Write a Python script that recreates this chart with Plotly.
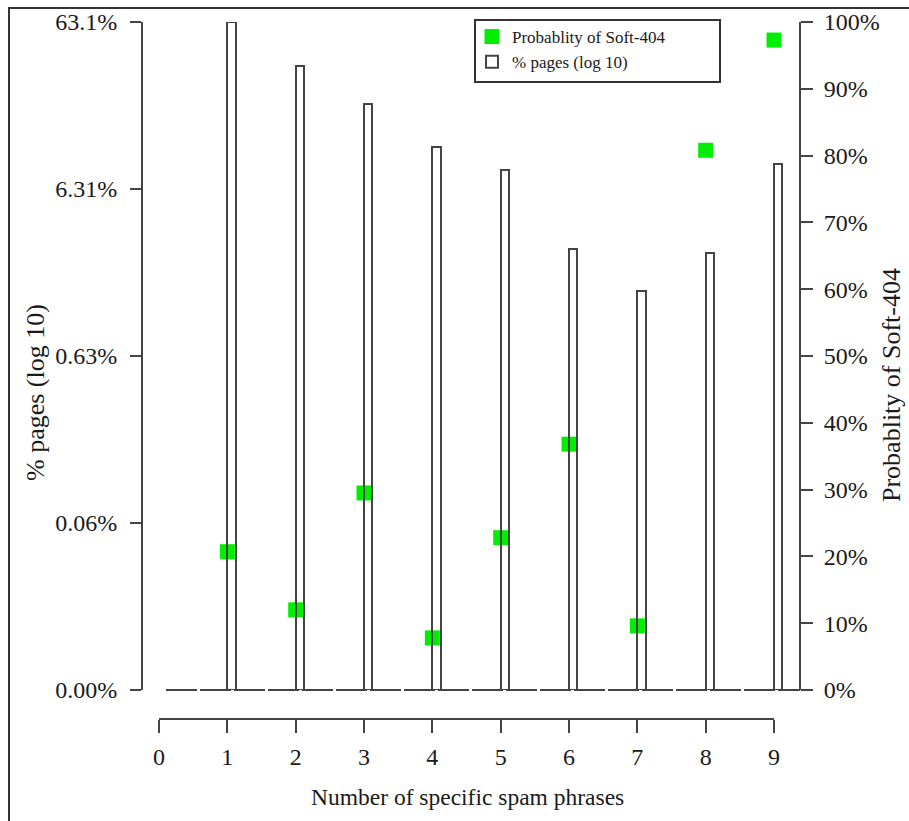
import plotly.graph_objects as go

# Number of specific spam phrases on a page
phrases = [1, 2, 3, 4, 5, 6, 7, 8, 9]
# Share of pages (percent, plotted on a log10 axis)
pct_pages = [63.1, 34.4, 20.4, 11.3, 8.2, 2.76, 1.55, 2.61, 8.9]
# Probability that the page is a soft-404 (percent)
prob_soft404 = [20.7, 12.0, 29.5, 7.8, 22.8, 36.8, 9.6, 80.8, 97.3]

# Left (log) axis ticks and labels
left_tickvals = [0.00631, 0.0631, 0.631, 6.31, 63.1]
left_ticktext = ["0.00%", "0.06%", "0.63%", "6.31%", "63.1%"]
LOG_RANGE = [-2.2, 1.8]
# Right axis ticks and labels
right_tickvals = list(range(0, 101, 10))
right_ticktext = [f"{v}%" for v in right_tickvals]
x_tickvals = list(range(0, 10))
X_RANGE = [-0.249, 9.38]

x_title = "Number of specific spam phrases"
left_title = "% pages (log 10)"
right_title = "Probablity of Soft-404"

FONT = "Liberation Serif"
INK = "#1a1a1a"
LINE = "#444444"

W, H = 909, 821
ML, MR, MT, MB = 142, 109, 22, 102
pw = W - ML - MR
ph = H - MT - MB


def px_x(p):
    return (p - ML) / pw


def px_y(p):
    return (H - MB - p) / ph


y_bottom = px_y(690)

fig = go.Figure()

fig.add_trace(go.Scatter(
    x=phrases, y=prob_soft404, mode="markers",
    name="Probablity of Soft-404",
    marker=dict(symbol="square", size=15, color="#00ee00", line=dict(width=0)),
    xaxis="x", yaxis="y", cliponaxis=False,
))

fig.add_trace(go.Bar(
    x=phrases, y=pct_pages, name="% pages (log 10)",
    base=10 ** LOG_RANGE[0],
    width=0.12, offset=0,
    marker=dict(color="rgba(0,0,0,0)", line=dict(color=LINE, width=2)),
    xaxis="x", yaxis="y2", cliponaxis=False,
))

tick_font = dict(family=FONT, size=24, color=INK)

fig.update_layout(
    width=W, height=H,
    margin=dict(l=ML, r=MR, t=MT, b=MB, autoexpand=False),
    paper_bgcolor="white", plot_bgcolor="rgba(0,0,0,0)",
    font=dict(family=FONT, color=INK),
    showlegend=True,
    bargap=0,
    # Category axis, detached below the value axes (its line is drawn as a shape)
    xaxis=dict(
        domain=[0, 1], range=X_RANGE, anchor="free", position=0,
        tickvals=x_tickvals, ticks="outside", ticklen=13, tickwidth=2, tickcolor=LINE,
        showline=False, showgrid=False, zeroline=False, tickfont=tick_font,
        ticklabelstandoff=3,
    ),
    yaxis=dict(
        domain=[y_bottom, 1], range=[0, 100], side="right",
        anchor="free", position=1,
        tickvals=right_tickvals, ticktext=right_ticktext,
        ticks="outside", ticklen=12, tickwidth=2, tickcolor=LINE,
        showline=True, linecolor=LINE, linewidth=2,
        showgrid=False, zeroline=False, tickfont=tick_font,
        ticklabelstandoff=6,
    ),
    yaxis2=dict(
        type="log", range=LOG_RANGE, overlaying="y", side="left",
        anchor="free", position=0,
        tickvals=left_tickvals, ticktext=left_ticktext,
        ticks="outside", ticklen=11, tickwidth=2, tickcolor=LINE,
        showline=True, linecolor=LINE, linewidth=2,
        showgrid=False, zeroline=False, tickfont=tick_font,
        ticklabelstandoff=8,
    ),
    legend=dict(
        x=px_x(472), y=px_y(19), xanchor="left", yanchor="top",
        bgcolor="rgba(0,0,0,0)", borderwidth=0,
        font=dict(family=FONT, size=17, color=INK),
        tracegroupgap=0, itemwidth=30,
    ),
)

# Axis titles
fig.add_annotation(text=x_title, xref="paper", yref="paper",
                   x=px_x(467), y=px_y(797), xanchor="center", yanchor="middle",
                   showarrow=False, font=dict(family=FONT, size=23.5, color=INK))
fig.add_annotation(text=left_title, xref="paper", yref="paper",
                   x=px_x(36), y=px_y(393), xanchor="center", yanchor="middle",
                   textangle=-90, showarrow=False,
                   font=dict(family=FONT, size=26, color=INK))
fig.add_annotation(text=right_title, xref="paper", yref="paper",
                   x=px_x(892), y=px_y(385), xanchor="center", yanchor="middle",
                   textangle=-90, showarrow=False,
                   font=dict(family=FONT, size=26, color=INK))

# Outer frame of the figure
fig.add_shape(type="rect", xref="paper", yref="paper",
              x0=px_x(9), x1=px_x(960), y0=px_y(900), y1=px_y(8),
              line=dict(color="#333333", width=2), fillcolor="rgba(0,0,0,0)",
              layer="below")
# Legend frame
fig.add_shape(type="rect", xref="paper", yref="paper",
              x0=px_x(475), x1=px_x(720), y0=px_y(82), y1=px_y(20),
              line=dict(color="#333333", width=2), fillcolor="white",
              layer="below")
# Dashed baseline along the bottom of the bars, up to the right axis
fig.add_shape(type="line", xref="paper", yref="paper",
              x0=px_x(166), x1=1, y0=y_bottom, y1=y_bottom,
              line=dict(color=LINE, width=2, dash="31px,3px"))
# Category axis line, spanning the first to the last tick
fig.add_shape(type="line", xref="x", yref="paper",
              x0=x_tickvals[0], x1=x_tickvals[-1], y0=0, y1=0,
              line=dict(color=LINE, width=2))

fig.write_html("out.html")
